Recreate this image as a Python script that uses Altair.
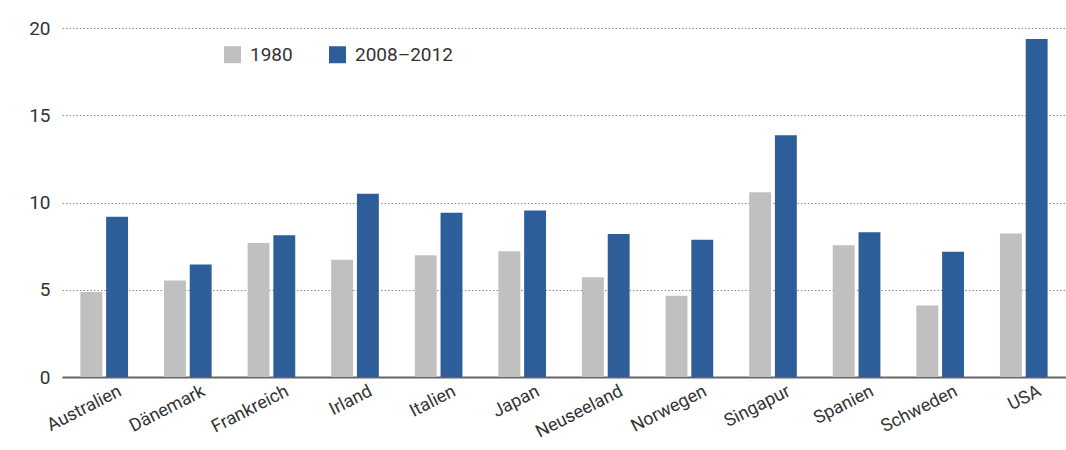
import altair as alt
import pandas as pd

countries = ["Australien", "Dänemark", "Frankreich", "Irland", "Italien", "Japan",
             "Neuseeland", "Norwegen", "Singapur", "Spanien", "Schweden", "USA"]
v1980 = [4.87, 5.53, 7.68, 6.72, 6.97, 7.2, 5.71, 4.66, 10.59, 7.55, 4.1, 8.22]
v2008 = [9.18, 6.44, 8.12, 10.5, 9.41, 9.54, 8.2, 7.86, 13.85, 8.29, 7.18, 19.37]
series = ["1980", "2008–2012"]
colors = ["#c0c0c0", "#2e5e99"]
y_ticks = [0, 5, 10, 15, 20]

rows = []
for c, a, b in zip(countries, v1980, v2008):
    rows.append({"Land": c, "Jahr": series[0], "Wert": a})
    rows.append({"Land": c, "Jahr": series[1], "Wert": b})
df = pd.DataFrame(rows)

FONT = "Roboto, sans-serif"

chart = alt.Chart(df).mark_bar().encode(
    x=alt.X("Land:N", sort=countries, title=None,
            scale=alt.Scale(paddingInner=0.43, paddingOuter=0.22),
            axis=alt.Axis(labelAngle=-27, labelAlign="right", labelBaseline="top",
                          labelFontSize=18, labelColor="#333333", labelFont=FONT,
                          ticks=False, domainColor="#666666", domainWidth=2,
                          labelPadding=5, labelOffset=12)),
    xOffset=alt.XOffset("Jahr:N", sort=series, scale=alt.Scale(paddingInner=0.15)),
    y=alt.Y("Wert:Q", title=None, scale=alt.Scale(domain=[0, 20], nice=False),
            axis=alt.Axis(values=y_ticks, domain=False, ticks=False, labelPadding=12,
                          labelFontSize=19, labelColor="#333333", labelFont=FONT,
                          gridDash=[1.5, 2], gridColor="#888888", gridWidth=1)),
    color=alt.Color("Jahr:N", sort=series,
                    scale=alt.Scale(domain=series, range=colors),
                    legend=alt.Legend(title=None, orient="none", legendX=161, legendY=17,
                                      direction="horizontal", symbolType="square",
                                      symbolSize=289, symbolStrokeWidth=0,
                                      labelFontSize=19, labelColor="#333333",
                                      labelFont=FONT, columnPadding=35, labelOffset=8)),
).properties(
    width=1004, height=349,
    autosize=alt.AutoSizeParams(type="none"),
    padding={"left": 62, "top": 28, "right": 0, "bottom": 73},
).configure_view(stroke=None).configure_axisX(grid=False)

chart.save("out.html", embed_options={"renderer": "svg", "actions": False})
